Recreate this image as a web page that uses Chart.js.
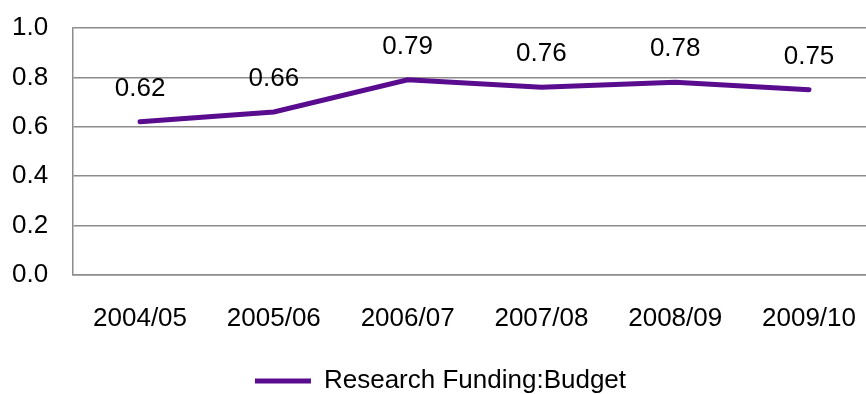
<!DOCTYPE html>
<html>
<head>
<meta charset="utf-8">
<script src="https://cdn.jsdelivr.net/npm/chart.js@4"></script>
<style>
  body { margin: 0; overflow: hidden; background: #fff; }
  #wrap { width: 876px; height: 394px; }
</style>
</head>
<body>
<div id="wrap"><canvas id="myChart"></canvas></div>
<script>
var labels = ['2004/05', '2005/06', '2006/07', '2007/08', '2008/09', '2009/10'];
var ratio = [0.62, 0.66, 0.79, 0.76, 0.78, 0.75];
var yTicks = [0, 0.2, 0.4, 0.6, 0.8, 1.0];

// draws the value above each point
var valueLabels = {
    id: 'valueLabels',
    afterDatasetsDraw: function(chart) {
        var ctx = chart.ctx;
        var meta = chart.getDatasetMeta(0);
        ctx.save();
        ctx.font = '26px "Liberation Sans", Arial, sans-serif';
        ctx.fillStyle = '#000';
        ctx.textAlign = 'center';
        ctx.textBaseline = 'middle';
        meta.data.forEach(function(pt, i) {
            ctx.fillText(ratio[i].toFixed(2), pt.x, pt.y - 33);
        });
        ctx.restore();
    }
};

// nudge the legend a bit to the right
var legendShift = {
    id: 'legendShift',
    afterLayout: function(chart) {
        chart.legend.left += 9;
        chart.legend.right += 9;
    }
};

var ctx = document.getElementById('myChart').getContext('2d');
Chart.defaults.font.family = '"Liberation Sans", Arial, sans-serif';
Chart.defaults.color = '#000';

var myChart = new Chart(ctx, {
    type: 'line',
    data: {
        labels: labels,
        datasets: [{
            label: 'Research Funding:Budget',
            data: ratio,
            borderColor: '#5a0c8f',
            backgroundColor: '#5a0c8f',
            borderWidth: 5,
            pointRadius: 0,
            pointStyle: 'line',
            tension: 0,
            borderCapStyle: 'round'
        }]
    },
    options: {
        responsive: true,
        maintainAspectRatio: false,
        animation: false,
        layout: { padding: { top: 0, left: -13, right: 0, bottom: -10 } },
        plugins: {
            tooltip: { enabled: false },
            legend: {
                position: 'bottom',
                labels: {
                    usePointStyle: true,
                    pointStyleWidth: 56,
                    font: { size: 26 },
                    color: '#000',
                    padding: 2
                }
            }
        },
        scales: {
            x: {
                offset: true,
                grid: { display: false },
                border: { color: '#8c8c8c', width: 1.5 },
                ticks: { font: { size: 26 }, padding: 20, color: '#000', maxRotation: 0 },
                afterFit: function(axis) { axis.height += 12; }
            },
            y: {
                min: 0,
                max: 1,
                afterBuildTicks: function(axis) {
                    axis.ticks = yTicks.map(function(v) { return { value: v }; });
                },
                afterFit: function(axis) { axis.paddingTop = 28; },
                ticks: {
                    font: { size: 26 },
                    color: '#000',
                    padding: 25,
                    callback: function(v) { return v.toFixed(1); }
                },
                grid: { color: '#8c8c8c', lineWidth: 1.5, drawTicks: false },
                border: { color: '#8c8c8c', width: 1.5 }
            }
        }
    },
    plugins: [valueLabels, legendShift]
});
</script>
</body>
</html>
